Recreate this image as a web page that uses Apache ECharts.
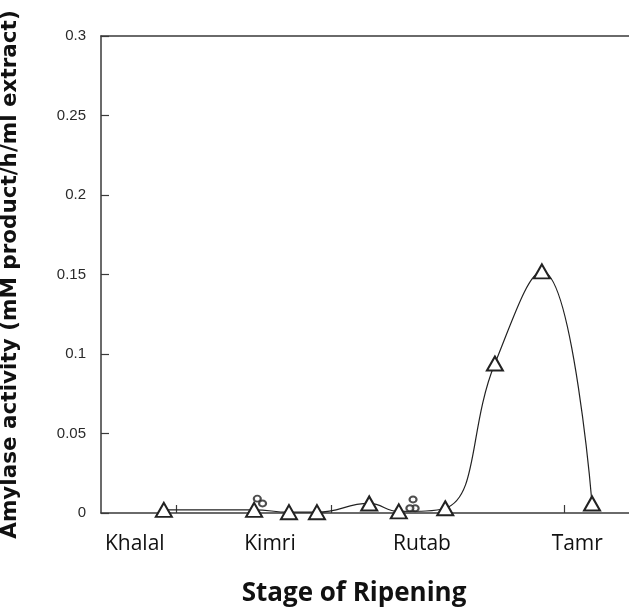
<!DOCTYPE html>
<html>
<head>
<meta charset="utf-8">
<script src="https://cdn.jsdelivr.net/npm/echarts@6/dist/echarts.min.js"></script>
<style>
html,body{margin:0;padding:0;background:#fff;}
#chart{width:629px;height:607px;}
</style>
</head>
<body>
<div id="chart"></div>
<script>
// Stage positions along the ripening axis (arbitrary 0-10 units)
const stageNames = ['Khalal', 'Kimri', 'Rutab', 'Tamr'];
const stagePositions = [0.64, 3.2, 6.08, 9.02];
const markPositions = [1.42, 4.36, 8.77];

// Amylase activity measurements (triangles)
const sampleX = [1.19, 2.90, 3.56, 4.09, 5.08, 5.64, 6.52, 7.46, 8.35, 9.30];
const activity = [0.002, 0.002, 0.0005, 0.0005, 0.006, 0.001, 0.003, 0.094, 0.152, 0.006];

// Small open circles near Kimri and Rutab
const circleX = [2.96, 3.06, 5.91, 5.95, 5.85];
const circleY = [0.009, 0.006, 0.0085, 0.003, 0.003];

const yTicks = [0, 0.05, 0.1, 0.15, 0.2, 0.25, 0.3];

const lineData = sampleX.map((x, i) => [x, activity[i]]);
const circleData = circleX.map((x, i) => [x, circleY[i]]);

const chart = echarts.init(document.getElementById('chart'), null, {renderer: 'canvas'});
const axisColor = '#3a3a3a';
chart.setOption({
  animation: false,
  backgroundColor: '#ffffff',
  grid: {left: 101, right: 0, top: 36, bottom: 94, containLabel: false, outerBoundsMode: 'none'},
  xAxis: [{
    type: 'value', min: 0, max: 10, position: 'bottom',
    axisLine: {show: true, onZero: false, lineStyle: {color: axisColor, width: 1.5}},
    axisTick: {show: true, inside: true, length: 8, customValues: markPositions, lineStyle: {color: axisColor, width: 1.2}},
    splitLine: {show: false},
    axisLabel: {
      show: true, margin: 21, customValues: stagePositions,
      formatter: v => {
        let best = 0;
        stagePositions.forEach((p, i) => { if (Math.abs(p - v) < Math.abs(stagePositions[best] - v)) best = i; });
        return stageNames[best];
      },
      fontFamily: 'Open Sans', fontSize: 21, color: '#111'
    },
    name: 'Stage of Ripening', nameLocation: 'middle', nameGap: 68,
    nameTextStyle: {fontFamily: 'Open Sans', fontWeight: 'bold', fontSize: 26, color: '#111', padding: [0, 22, 0, 0]}
  }, {
    type: 'value', min: 0, max: 10, position: 'top',
    axisLine: {show: true, onZero: false, lineStyle: {color: axisColor, width: 1.5}},
    axisTick: {show: false}, axisLabel: {show: false}, splitLine: {show: false}
  }],
  yAxis: {
    type: 'value', min: 0, max: 0.3, interval: 0.05,
    axisLine: {show: true, onZero: false, lineStyle: {color: axisColor, width: 1.5}},
    axisTick: {show: true, inside: true, length: 8, lineStyle: {color: axisColor, width: 1.2}},
    splitLine: {show: false},
    axisLabel: {
      margin: 15, fontFamily: 'Liberation Sans', fontSize: 15, color: '#2a2a2a',
      formatter: v => String(parseFloat(v.toFixed(2)))
    },
    name: 'Amylase activity (mM product/h/ml extract)', nameLocation: 'middle', nameGap: 80,
    nameRotate: 90,
    nameTextStyle: {fontFamily: 'DejaVu Sans', fontWeight: 'bold', fontSize: 21.5, color: '#111'}
  },
  series: [{
    type: 'line', data: lineData, smooth: 0.45,
    lineStyle: {color: '#222', width: 1.2},
    symbol: 'emptyTriangle', symbolSize: [16, 14],
    itemStyle: {color: '#222', borderColor: '#222', borderWidth: 1.2},
    z: 3
  }, {
    type: 'scatter', data: circleData,
    symbol: 'emptyCircle', symbolSize: [7, 6],
    itemStyle: {color: '#222', borderColor: '#222', borderWidth: 1.2},
    z: 4
  }]
});
</script>
</body>
</html>
